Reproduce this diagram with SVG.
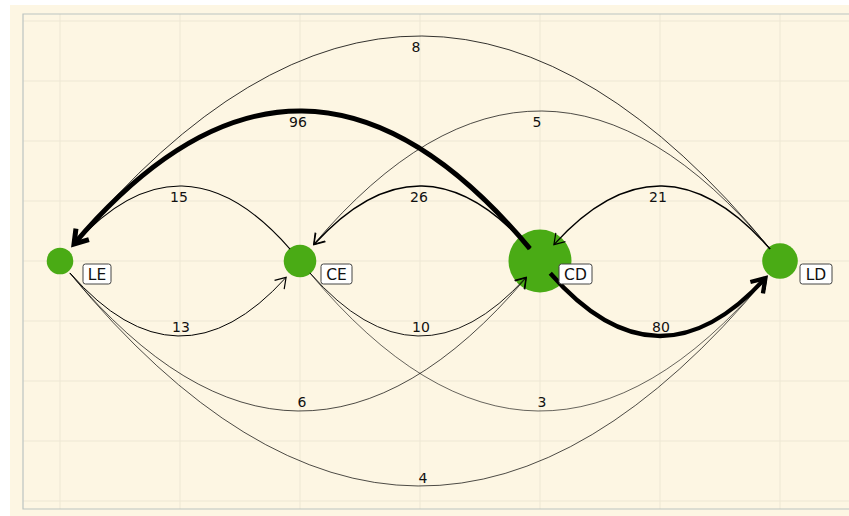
<svg xmlns="http://www.w3.org/2000/svg" width="849" height="516" viewBox="0 0 849 516">
<style>
.grid line{stroke:#ede7d4;stroke-width:1}
.frame{stroke:#bcc4c1;stroke-width:1.2;fill:none}
.edge{fill:none;stroke:#000}
.elabel{font-family:"DejaVu Sans",sans-serif;font-size:14px;fill:#111;text-anchor:middle}
.node circle{fill:#4aab15}
.node rect{fill:#fff;stroke:#444;stroke-width:1}
.node text{font-family:"DejaVu Sans",sans-serif;font-size:15.5px;fill:#111;text-anchor:middle}
</style>
<defs>
<marker id="ah" markerUnits="userSpaceOnUse" viewBox="-14 -10 16 20" refX="0" refY="0" markerWidth="16" markerHeight="20" orient="auto" overflow="visible">
<path d="M-10,-6.5 L0,0 L-10,6.5" fill="none" stroke="#000" stroke-width="1.2" stroke-linejoin="miter"/>
</marker>
<marker id="ah96" markerUnits="userSpaceOnUse" viewBox="-20 -14 26 28" refX="0" refY="0" markerWidth="26" markerHeight="28" orient="auto" overflow="visible">
<path d="M-13,-8.5 L0,0 L-13,8.5" fill="none" stroke="#000" stroke-width="5" stroke-linejoin="miter" stroke-miterlimit="10"/>
</marker>
<marker id="ah80" markerUnits="userSpaceOnUse" viewBox="-20 -14 26 28" refX="0" refY="0" markerWidth="26" markerHeight="28" orient="auto" overflow="visible">
<path d="M-13,-8.5 L0,0 L-13,8.5" fill="none" stroke="#000" stroke-width="4.3" stroke-linejoin="miter" stroke-miterlimit="10"/>
</marker>
</defs>
<rect x="0" y="0" width="849" height="516" fill="#ffffff"/>
<rect x="10" y="5" width="839" height="511" fill="#fdf6e3"/>
<g class="grid">
<line x1="60" y1="14" x2="60" y2="509"/>
<line x1="180" y1="14" x2="180" y2="509"/>
<line x1="300" y1="14" x2="300" y2="509"/>
<line x1="420" y1="14" x2="420" y2="509"/>
<line x1="540" y1="14" x2="540" y2="509"/>
<line x1="660" y1="14" x2="660" y2="509"/>
<line x1="780" y1="14" x2="780" y2="509"/>
<line x1="23" y1="21" x2="849" y2="21"/>
<line x1="23" y1="81" x2="849" y2="81"/>
<line x1="23" y1="141" x2="849" y2="141"/>
<line x1="23" y1="201" x2="849" y2="201"/>
<line x1="23" y1="261" x2="849" y2="261"/>
<line x1="23" y1="321" x2="849" y2="321"/>
<line x1="23" y1="381" x2="849" y2="381"/>
<line x1="23" y1="441" x2="849" y2="441"/>
<line x1="23" y1="501" x2="849" y2="501"/>
</g>
<path class="frame" d="M849,14 H23 V509 H849"/>
<g id="node-LE" class="node"><circle cx="60" cy="261" r="13.3"/></g>
<g id="node-CE" class="node"><circle cx="300" cy="261" r="16.3"/></g>
<g id="node-CD" class="node"><circle cx="540" cy="261" r="31.5"/></g>
<g id="node-LD" class="node"><circle cx="780" cy="261" r="17.8"/></g>
<g id="connectors">
<path id="e-LE-LD" class="edge" stroke-width="0.7" d="M69.77 273.05 Q418.08 696.62 766.39 277.69" marker-end="url(#ah)"/>
<path id="e-LD-LE" class="edge" stroke-width="0.8" d="M770.23 248.95 Q421.92 -174.62 73.61 244.31" marker-end="url(#ah)"/>
<path id="e-LE-CD" class="edge" stroke-width="0.7" d="M69.79 272.99 Q298.06 546.68 526.32 277.61" marker-end="url(#ah)"/>
<path id="e-CE-LD" class="edge" stroke-width="0.6" d="M309.79 272.99 Q538.06 546.68 766.32 277.61" marker-end="url(#ah)"/>
<path id="e-LD-CE" class="edge" stroke-width="0.7" d="M770.21 249.01 Q541.94 -24.68 313.68 244.39" marker-end="url(#ah)"/>
<path id="e-LE-CE" class="edge" stroke-width="1.0" d="M69.94 272.91 Q178.01 396.81 286.08 277.39" marker-end="url(#ah)"/>
<path id="e-CE-LE" class="edge" stroke-width="1.1" d="M290.06 249.09 Q181.99 125.19 73.92 244.61" marker-end="url(#ah)"/>
<path id="e-CE-CD" class="edge" stroke-width="0.9" d="M309.94 272.91 Q418.01 396.81 526.08 277.39" marker-end="url(#ah)"/>
<path id="e-CD-CE" class="edge" stroke-width="1.5" d="M530.06 249.09 Q421.99 125.19 313.92 244.61" marker-end="url(#ah)"/>
<path id="e-LD-CD" class="edge" stroke-width="1.3" d="M770.06 249.09 Q661.99 125.19 553.92 244.61" marker-end="url(#ah)"/>
<path id="e-CD-LD" class="edge" stroke-width="4.3" d="M550.27 273.29 Q657.84 396.24 765.41 278.13" marker-end="url(#ah80)"/>
<path id="e-CD-LE" class="edge" stroke-width="5" d="M529.87 248.61 Q301.94 -24.28 74.02 244.0" marker-end="url(#ah96)"/>
<text class="elabel" x="416" y="52">8</text>
<text class="elabel" x="298" y="127">96</text>
<text class="elabel" x="537" y="127">5</text>
<text class="elabel" x="179" y="202">15</text>
<text class="elabel" x="419" y="202">26</text>
<text class="elabel" x="658" y="202">21</text>
<text class="elabel" x="181" y="332">13</text>
<text class="elabel" x="421" y="332">10</text>
<text class="elabel" x="661" y="332">80</text>
<text class="elabel" x="302" y="407">6</text>
<text class="elabel" x="542" y="407">3</text>
<text class="elabel" x="423" y="483">4</text>
</g>
<g id="label-LE" class="node"><rect x="83" y="264" width="28" height="20" rx="2.5"/><text x="97" y="279.5">LE</text></g>
<g id="label-CE" class="node"><rect x="321" y="264" width="31" height="20" rx="2.5"/><text x="336.5" y="279.5">CE</text></g>
<g id="label-CD" class="node"><rect x="559" y="264" width="33" height="20" rx="2.5"/><text x="575.5" y="279.5">CD</text></g>
<g id="label-LD" class="node"><rect x="800" y="264" width="32" height="20" rx="2.5"/><text x="816" y="279.5">LD</text></g>
</svg>
